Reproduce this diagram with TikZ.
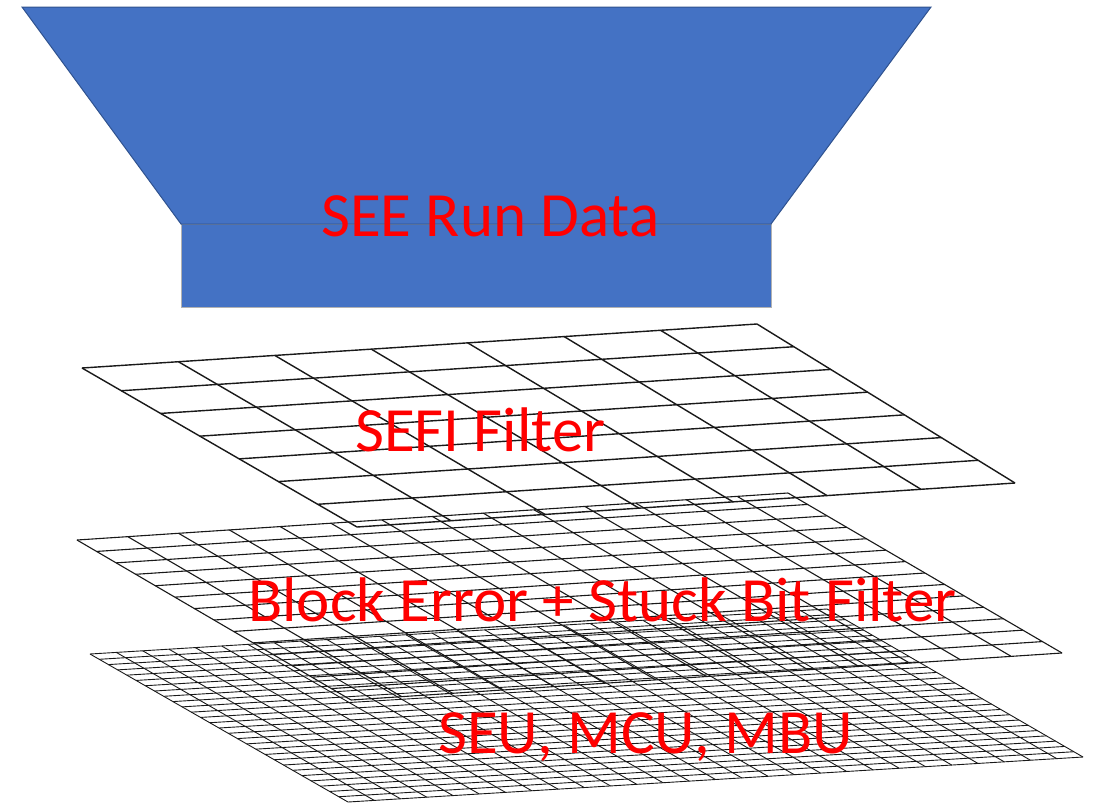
\documentclass[tikz,border=0pt]{standalone}
\usepackage{fontspec}
\setmainfont{Carlito}
\usetikzlibrary{calc}
\definecolor{funnelblue}{HTML}{4472C4}
\definecolor{funneledge}{HTML}{2F528F}
\begin{document}
\begin{tikzpicture}[x=1pt, y=-1pt,
  redlabel/.style={text=red, font=\fontsize{63}{70}\selectfont, inner sep=0pt, anchor=base west},
  gridline/.style={black!90, line width=#1}]
  \useasboundingbox (0,0) rectangle (1094,804);
  \draw[fill=funnelblue, draw=gray!60, line width=0.6] (181,224) rectangle (771,307);
  \draw[fill=funnelblue, draw=funneledge, line width=1] (22,7) -- (931,7) -- (771,224) -- (181,224) -- cycle;
  \coordinate (sefi-tl) at (82,368);
  \coordinate (sefi-tr) at (757,324);
  \coordinate (sefi-br) at (1015,483);
  \coordinate (sefi-bl) at (357,527);
  \coordinate (blk-tl) at (77,540);
  \coordinate (blk-tr) at (788,493);
  \coordinate (blk-br) at (1062,653);
  \coordinate (blk-bl) at (351,700);
  \coordinate (seu-tl) at (90,654);
  \coordinate (seu-tr) at (827,609);
  \coordinate (seu-br) at (1083,757);
  \coordinate (seu-bl) at (348,802);
  \foreach \lay/\n/\w in {sefi/7/1.4, blk/14/1.1, seu/28/0.9} {
    \foreach \i in {0,...,\n} {
      \draw[gridline=\w] ($(\lay-tl)!\i/\n!(\lay-tr)$) -- ($(\lay-bl)!\i/\n!(\lay-br)$);
      \draw[gridline=\w] ($(\lay-tl)!\i/\n!(\lay-bl)$) -- ($(\lay-tr)!\i/\n!(\lay-br)$);
    }
  }
  \node[redlabel] (seedata) at (321,236) {SEE Run Data};
  \node[redlabel] (sefi) at (355,451) {SEFI Filter};
  \node[redlabel] (blockerr) at (248,621) {Block Error + Stuck Bit Filter};
  \node[redlabel] (seu) at (438,753) {SEU, MCU, MBU};
\end{tikzpicture}
\end{document}
